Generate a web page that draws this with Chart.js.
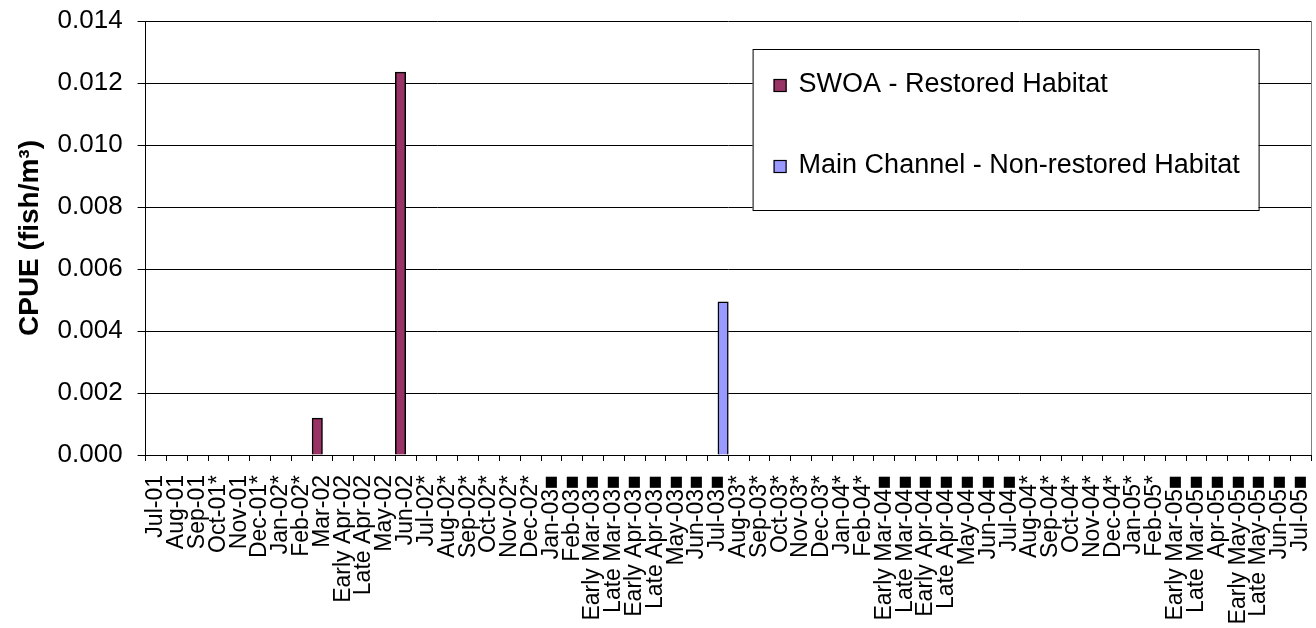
<!DOCTYPE html>
<html>
<head>
<meta charset="utf-8">
<script src="https://cdn.jsdelivr.net/npm/chart.js@4/dist/chart.umd.min.js"></script>
<style>
html,body{margin:0;padding:0;background:#fff;}
#wrap{width:1316px;height:628px;position:relative;}
</style>
</head>
<body>
<div id="wrap"><canvas id="c" width="1316" height="628"></canvas></div>
<script>
const categories = [
  "Jul-01","Aug-01","Sep-01","Oct-01*","Nov-01","Dec-01*",
  "Jan-02*","Feb-02*","Mar-02","Early Apr-02","Late Apr-02","May-02","Jun-02",
  "Jul-02*","Aug-02*","Sep-02*","Oct-02*","Nov-02*","Dec-02*",
  "Jan-03\u25A0","Feb-03\u25A0","Early Mar-03\u25A0","Late Mar-03\u25A0","Early Apr-03\u25A0","Late Apr-03\u25A0",
  "May-03\u25A0","Jun-03\u25A0","Jul-03\u25A0","Aug-03*","Sep-03*","Oct-03*","Nov-03*","Dec-03*",
  "Jan-04*","Feb-04*","Early Mar-04\u25A0","Late Mar-04\u25A0","Early Apr-04\u25A0","Late Apr-04\u25A0",
  "May-04\u25A0","Jun-04\u25A0","Jul-04\u25A0","Aug-04*","Sep-04*","Oct-04*","Nov-04*","Dec-04*",
  "Jan-05*","Feb-05*","Early Mar-05\u25A0","Late Mar-05\u25A0","Apr-05\u25A0","Early May-05\u25A0",
  "Late May-05\u25A0","Jun-05\u25A0","Jul-05\u25A0"
];
const swoaValues = [
  0,0,0,0,0,0,
  0,0,0.00119,0,0,0,0.01235,
  0,0,0,0,0,0,
  0,0,0,0,0,0,
  0,0,0,0,0,0,0,0,
  0,0,0,0,0,0,
  0,0,0,0,0,0,0,0,
  0,0,0,0,0,0,
  0,0,0
];
const mainValues = [
  0,0,0,0,0,0,
  0,0,0,0,0,0,0,
  0,0,0,0,0,0,
  0,0,0,0,0,0,
  0,0,0.00494,0,0,0,0,0,
  0,0,0,0,0,0,
  0,0,0,0,0,0,0,0,
  0,0,0,0,0,0,
  0,0,0
];
const seriesNames = ["SWOA - Restored Habitat", "Main Channel - Non-restored Habitat"];
const seriesColors = ["#993366", "#9999FF"];
const yTicks = [0, 0.002, 0.004, 0.006, 0.008, 0.010, 0.012, 0.014];

const FONT = "'Liberation Sans', Arial, sans-serif";

const boxLegend = {
  id: 'boxLegend',
  afterDraw(chart) {
    const ctx = chart.ctx;
    const a = chart.chartArea;
    ctx.save();
    ctx.strokeStyle = '#808080';
    ctx.lineWidth = 1;
    ctx.beginPath();
    ctx.moveTo(Math.round(a.right) + 0.5, a.top);
    ctx.lineTo(Math.round(a.right) + 0.5, a.bottom);
    ctx.stroke();

    const x0 = a.left + 607, y0 = a.top + 28, w = 506, h = 161;
    ctx.fillStyle = '#fff';
    ctx.fillRect(x0, y0, w, h);
    ctx.strokeStyle = '#000';
    ctx.strokeRect(x0 + 0.5, y0 + 0.5, w, h);
    ctx.font = '27px ' + FONT;
    ctx.textBaseline = 'middle';
    ctx.textAlign = 'left';
    const rows = [y0 + 35, y0 + 116];
    chart.data.datasets.forEach((ds, i) => {
      const cy = rows[i];
      ctx.fillStyle = ds.backgroundColor;
      ctx.fillRect(x0 + 21, cy - 5, 13, 13);
      ctx.strokeStyle = '#000';
      ctx.lineWidth = 1.2;
      ctx.strokeRect(x0 + 21.5, cy - 4.5, 12, 12);
      ctx.fillStyle = '#000';
      ctx.fillText(ds.label, x0 + 46, cy + 1);
    });
    ctx.restore();
  }
};

new Chart(document.getElementById('c'), {
  type: 'bar',
  data: {
    labels: categories,
    datasets: [
      { label: seriesNames[0], data: swoaValues, backgroundColor: seriesColors[0], borderColor: '#000', borderWidth: 1.5, borderSkipped: 'bottom' },
      { label: seriesNames[1], data: mainValues, backgroundColor: seriesColors[1], borderColor: '#000', borderWidth: 1.5, borderSkipped: 'bottom' }
    ]
  },
  options: {
    responsive: false,
    animation: false,
    events: [],
    layout: { padding: { top: 21, right: 5, left: 0, bottom: 0 } },
    datasets: { bar: { categoryPercentage: 1.0, barPercentage: 1.0 } },
    plugins: { legend: { display: false }, tooltip: { enabled: false } },
    scales: {
      x: {
        offset: true,
        grid: { offset: true, drawOnChartArea: false, drawTicks: true, tickLength: 6, color: '#000', lineWidth: 1 },
        border: { color: '#000', width: 1 },
        ticks: {
          autoSkip: false, maxRotation: 90, minRotation: 90, color: '#000', padding: 14,
          font: { family: FONT, size: 23 }
        },
        afterFit(scale) {
          scale.height = 173;
          scale.paddingLeft = 0; scale.paddingRight = 0;
          scale.paddingTop = 0; scale.paddingBottom = 0;
        }
      },
      y: {
        min: 0, max: 0.014,
        afterBuildTicks(scale) { scale.ticks = yTicks.map(v => ({ value: v })); },
        grid: { color: '#000', lineWidth: 1, tickLength: 8 },
        border: { color: '#000', width: 1 },
        ticks: {
          color: '#000', padding: 15,
          font: { family: FONT, size: 26 },
          callback: v => Number(v).toFixed(3)
        },
        title: {
          display: true, text: 'CPUE (fish/m\u00B3)', color: '#000',
          font: { family: FONT, size: 28, weight: 'bold' },
          padding: { top: 13, bottom: 0 }
        },
        afterFit(scale) {
          scale.width = 145.6;
          scale.paddingTop = 0; scale.paddingBottom = 0;
          scale.paddingLeft = 0; scale.paddingRight = 0;
        }
      }
    }
  },
  plugins: [boxLegend]
});
</script>
</body>
</html>
